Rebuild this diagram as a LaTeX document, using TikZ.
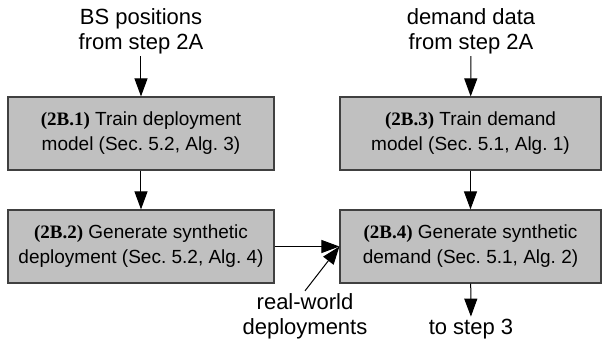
\documentclass[tikz,border=0pt]{standalone}
\usepackage{fontspec}
\setmainfont{Liberation Sans}
\newfontfamily\labelserif{Liberation Serif}
\usetikzlibrary{arrows.meta}
\definecolor{boxfill}{RGB}{192,192,192}
\definecolor{boxline}{RGB}{64,64,64}
\newcommand{\stepno}[1]{{\labelserif\bfseries #1}}

\begin{document}
\begin{tikzpicture}[x=0.5pt,y=-0.5pt,
    stepbox/.style={draw=boxline,fill=boxfill,line width=0.6pt,minimum height=36.5pt,
      align=center,inner sep=0pt,font=\fontsize{9.5}{12.5}\selectfont},
    note/.style={align=center,inner sep=1pt,font=\fontsize{11}{12.5}\selectfont},
    flow/.style={-{Triangle[length=9pt,width=6.5pt]},line width=0.5pt}]
      \useasboundingbox (0,0) rectangle (602,343);
      \node[note] (bspos) at (141,31) {BS positions\\from step 2A};
      \node[note] (demdata) at (471,31) {demand data\\from step 2A};
      \node[stepbox,minimum width=133pt] (traindep) at (141,133.5) {\stepno{(2B.1)} Train deployment\\model (Sec.~5.2, Alg.~3)};
      \node[stepbox,minimum width=130.5pt] (traindem) at (470.5,133.5) {\stepno{(2B.3)} Train demand\\model (Sec.~5.1, Alg.~1)};
      \node[stepbox,minimum width=133pt] (gendep) at (141,246.5) {\stepno{(2B.2)} Generate synthetic\\deployment (Sec.~5.2, Alg.~4)};
      \node[stepbox,minimum width=130.5pt] (gendem) at (470.5,246.5) {\stepno{(2B.4)} Generate synthetic\\demand (Sec.~5.1, Alg.~2)};
      \node[note] (realdep) at (305,316) {real-world\\deployments};
      \node[note] (nextstep) at (471,329) {to step 3};
      \draw[flow] (bspos) -- (traindep);
      \draw[flow] (demdata) -- (traindem);
      \draw[flow] (traindep) -- (gendep);
      \draw[flow] (traindem) -- (gendem);
      \draw[flow] (gendep) -- (gendem);
      \draw[flow] (realdep.north) -- (gendem.west);
      \draw[flow] (gendem) -- (nextstep);
    \end{tikzpicture}
\end{document}
